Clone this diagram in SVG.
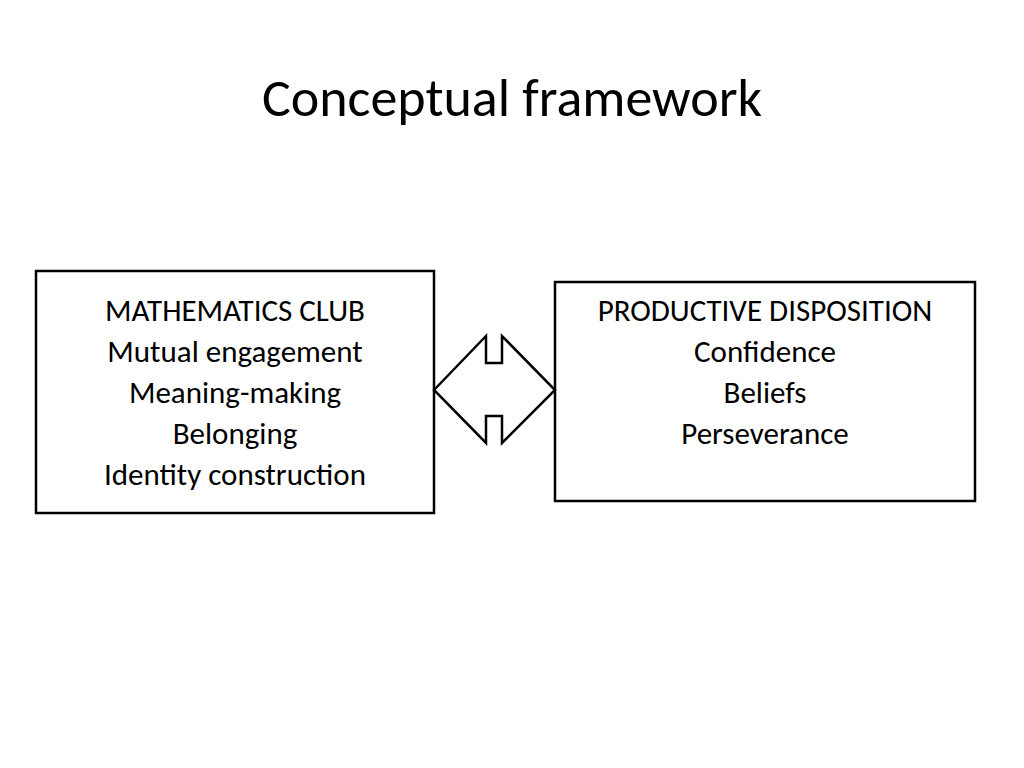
<svg xmlns="http://www.w3.org/2000/svg" width="1024" height="768" viewBox="0 0 1024 768">
<style>
text{font-family:Calibri,Carlito,"Liberation Sans",sans-serif;fill:#000}
.t{font-size:31px}
.n{fill:#fff;stroke:#000;stroke-width:2.5}
</style>
<rect width="1024" height="768" fill="#fff"/>
<text x="512" y="116" text-anchor="middle" font-size="54">Conceptual framework</text>
<g id="club"><rect class="n" x="36" y="271" width="398" height="242"/>
<text class="t" text-anchor="middle" x="235" y="321">MATHEMATICS CLUB</text>
<text class="t" text-anchor="middle" x="235" y="362">Mutual engagement</text>
<text class="t" text-anchor="middle" x="235" y="403">Meaning-making</text>
<text class="t" text-anchor="middle" x="235" y="444">Belonging</text>
<text class="t" text-anchor="middle" x="235" y="485">Identity construction</text></g>
<g id="disp"><rect class="n" x="555" y="282" width="420" height="219"/>
<text class="t" text-anchor="middle" x="765" y="321">PRODUCTIVE DISPOSITION</text>
<text class="t" text-anchor="middle" x="765" y="362">Confidence</text>
<text class="t" text-anchor="middle" x="765" y="403">Beliefs</text>
<text class="t" text-anchor="middle" x="765" y="444">Perseverance</text></g>
<g id="connectors"><path d="M434 390 L486 336 L486 363 L502 363 L502 336 L555 390 L502 443 L502 416 L486 416 L486 443 Z" fill="#fff" stroke="#000" stroke-width="2.5" stroke-linejoin="miter"/></g>
</svg>
